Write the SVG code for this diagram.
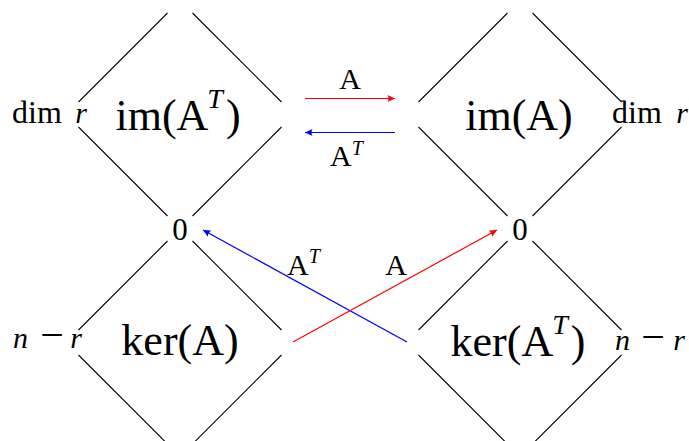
<svg xmlns="http://www.w3.org/2000/svg" width="689" height="441" viewBox="0 0 689 441">
<style>
.d line{stroke:#000;stroke-width:1.1;stroke-linecap:butt}
text{font-family:"Liberation Serif","DejaVu Serif",serif;fill:#000}
.big{font-size:44px}
.sm{font-size:30px}
.dim{font-size:32px}
.zero{font-size:31px}
.minus{font-size:42px}
.it{font-style:italic}
.red{stroke:#ff0000;stroke-width:1.2;fill:none}
.blue{stroke:#0000ff;stroke-width:1.2;fill:none}
</style>
<defs>
<marker id="ar" markerUnits="userSpaceOnUse" viewBox="-8 -5 9 10" refX="0" refY="0" markerWidth="9" markerHeight="10" orient="auto" overflow="visible">
<path d="M0,0 L-7.5,-3.6 Q-5.5,0 -7.5,3.6 Z" fill="#ff0000"/>
</marker>
<marker id="ab" markerUnits="userSpaceOnUse" viewBox="-8 -5 9 10" refX="0" refY="0" markerWidth="9" markerHeight="10" orient="auto" overflow="visible">
<path d="M0,0 L-7.5,-3.6 Q-5.5,0 -7.5,3.6 Z" fill="#0000ff"/>
</marker>
</defs>

<g id="imAT" class="d">
<line x1="167.5" y1="13" x2="78.5" y2="102"/>
<line x1="192.5" y1="13" x2="281.5" y2="102"/>
<line x1="78.5" y1="127" x2="167.5" y2="216"/>
<line x1="281.5" y1="127" x2="192.5" y2="216"/>
<text class="big" x="178" y="130" text-anchor="middle">im(A<tspan class="it" font-size="28" dx="-1" dy="-22">T</tspan><tspan dx="3" dy="22">)</tspan></text>
<text class="dim" x="12" y="123">dim</text>
<text class="sm it" x="87" y="123" text-anchor="end">r</text>
</g>

<g id="imA" class="d">
<line x1="507.5" y1="13" x2="418.5" y2="102"/>
<line x1="532.5" y1="13" x2="621.5" y2="102"/>
<line x1="418.5" y1="127" x2="507.5" y2="216"/>
<line x1="621.5" y1="127" x2="532.5" y2="216"/>
<text class="big" x="519" y="130" text-anchor="middle">im(A)</text>
<text class="dim" x="612" y="123">dim</text>
<text class="sm it" x="688" y="123" text-anchor="end">r</text>
</g>

<g id="zeroL">
<text class="zero" x="180" y="240" text-anchor="middle">0</text>
</g>
<g id="zeroR">
<text class="zero" x="520" y="240" text-anchor="middle">0</text>
</g>

<g id="kerA" class="d">
<line x1="167.5" y1="241" x2="78.5" y2="330"/>
<line x1="192.5" y1="241" x2="281.5" y2="330"/>
<line x1="78.5" y1="355" x2="167.5" y2="444"/>
<line x1="281.5" y1="355" x2="192.5" y2="444"/>
<text class="big" x="180" y="355" text-anchor="middle">ker(A)</text>
<text class="sm it" x="13" y="348">n</text>
<text class="minus" x="52" y="349" text-anchor="middle">−</text>
<text class="sm it" x="82" y="348" text-anchor="end">r</text>
</g>

<g id="kerAT" class="d">
<line x1="507.5" y1="241" x2="418.5" y2="330"/>
<line x1="532.5" y1="241" x2="621.5" y2="330"/>
<line x1="418.5" y1="355" x2="507.5" y2="444"/>
<line x1="621.5" y1="355" x2="532.5" y2="444"/>
<text class="big" x="518" y="356" text-anchor="middle">ker(A<tspan class="it" font-size="28" dx="-1" dy="-22">T</tspan><tspan dx="3" dy="22">)</tspan></text>
<text class="sm it" x="615" y="350">n</text>
<text class="minus" x="653" y="351" text-anchor="middle">−</text>
<text class="sm it" x="685" y="350" text-anchor="end">r</text>
</g>

<g id="connectors">
<line class="red" x1="305" y1="98.5" x2="395" y2="98.5" marker-end="url(#ar)"/>
<line class="blue" x1="395" y1="132.5" x2="305" y2="132.5" marker-end="url(#ab)"/>
<line class="blue" x1="407" y1="342" x2="203" y2="230" marker-end="url(#ab)"/>
<line class="red" x1="293" y1="342" x2="497" y2="230" marker-end="url(#ar)"/>
<text class="sm" x="350" y="89" text-anchor="middle">A</text>
<text class="sm" x="330" y="166">A<tspan class="it" font-size="20" dy="-11">T</tspan></text>
<text class="sm" x="287" y="275">A<tspan class="it" font-size="20" dy="-12">T</tspan></text>
<text class="sm" x="396" y="275" text-anchor="middle">A</text>
</g>
</svg>
